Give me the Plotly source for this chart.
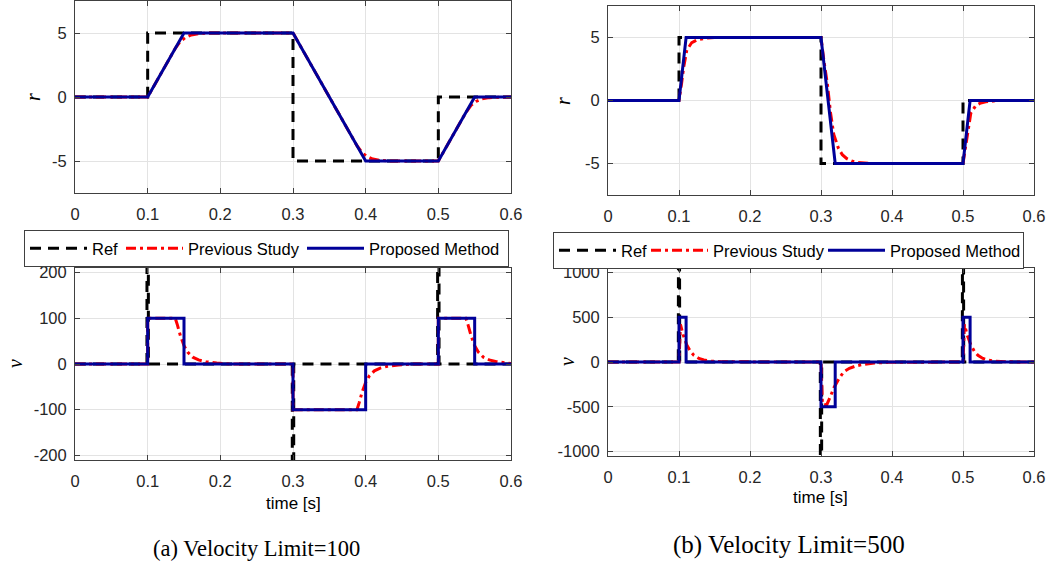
import plotly.graph_objects as go

# ---------------- data ----------------
# Reference signal (same for both cases)
t_ref = [0, 0.1, 0.1, 0.3, 0.3, 0.5, 0.5, 0.6]
r_ref = [0, 0, 5, 5, -5, -5, 0, 0]
t_ref_v = [0, 0.099, 0.1, 0.101, 0.299, 0.3, 0.301, 0.499, 0.5, 0.501, 0.6]
v_ref = [0, 0, 5000, 0, 0, -10000, 0, 0, 5000, 0, 0]

# (a) Velocity limit = 100
t_prop_a = [0, 0.1, 0.15, 0.3, 0.4, 0.5, 0.55, 0.6]
r_prop_a = [0, 0, 5, 5, -5, -5, 0, 0]
t_prev_a = [0, 0.1, 0.138, 0.145, 0.152, 0.16, 0.17, 0.185, 0.3, 0.388, 0.395, 0.402,
            0.41, 0.42, 0.435, 0.5, 0.538, 0.545, 0.552, 0.56, 0.57, 0.585, 0.6]
r_prev_a = [0, 0, 3.8, 4.35, 4.65, 4.85, 4.95, 5.0, 5, -3.8, -4.35, -4.65,
            -4.85, -4.95, -5, -5, -1.2, -0.65, -0.35, -0.15, -0.05, 0, 0]
t_prop_va = [0, 0.1, 0.1, 0.15, 0.15, 0.3, 0.3, 0.4, 0.4, 0.5, 0.5, 0.55, 0.55, 0.6]
v_prop_a = [0, 0, 100, 100, 0, 0, -100, -100, 0, 0, 100, 100, 0, 0]
t_prev_va = [0, 0.1, 0.1, 0.138, 0.141, 0.145, 0.15, 0.155, 0.162, 0.17, 0.18, 0.195, 0.215,
             0.3, 0.3, 0.388, 0.391, 0.395, 0.4, 0.405, 0.412, 0.42, 0.43, 0.445, 0.465,
             0.5, 0.5, 0.538, 0.541, 0.545, 0.55, 0.555, 0.562, 0.57, 0.58, 0.595, 0.6]
v_prev_a = [0, 0, 100, 100, 85, 62, 40, 26, 15, 9, 5, 2, 0,
            0, -100, -100, -85, -62, -40, -26, -15, -9, -5, -2, 0,
            0, 100, 100, 85, 62, 40, 26, 15, 9, 5, 2, 1]

# (b) Velocity limit = 500
t_prop_b = [0, 0.1, 0.11, 0.3, 0.32, 0.5, 0.51, 0.6]
r_prop_b = [0, 0, 5, 5, -5, -5, 0, 0]
t_prev_b = [0, 0.1, 0.1035, 0.1065, 0.111, 0.118, 0.125, 0.132, 0.14, 0.15,
            0.3, 0.304, 0.309, 0.3135, 0.318, 0.3246, 0.33, 0.336, 0.343, 0.35, 0.36, 0.37,
            0.5, 0.5035, 0.5065, 0.511, 0.518, 0.525, 0.532, 0.54, 0.55, 0.6]
r_prev_b = [0, 0, 1.3, 2.6, 4.0, 4.6, 4.8, 4.9, 4.96, 5,
            5, 3.2, 1.3, -1.0, -2.7, -3.8, -4.3, -4.6, -4.8, -4.9, -4.97, -5,
            -5, -3.7, -2.4, -1.0, -0.4, -0.2, -0.1, -0.04, 0, 0]
t_prop_vb = [0, 0.1, 0.1, 0.11, 0.11, 0.3, 0.3, 0.32, 0.32, 0.5, 0.5, 0.51, 0.51, 0.6]
v_prop_b = [0, 0, 500, 500, 0, 0, -500, -500, 0, 0, 500, 500, 0, 0]
t_prev_vb = [0, 0.1, 0.102, 0.106, 0.111, 0.116, 0.121, 0.128, 0.135, 0.145, 0.16,
             0.3, 0.302, 0.308, 0.313, 0.318, 0.325, 0.332, 0.34, 0.35, 0.36, 0.375, 0.395,
             0.5, 0.502, 0.506, 0.511, 0.516, 0.521, 0.528, 0.535, 0.545, 0.56, 0.6]
v_prev_b = [0, 0, 420, 300, 190, 120, 75, 40, 22, 9, 2,
            0, -470, -480, -390, -290, -190, -110, -70, -42, -26, -12, -3,
            0, 420, 300, 190, 120, 75, 40, 22, 9, 2, 0]

series_names = ["Ref", "Previous Study", "Proposed Method"]
x_ticks = [0, 0.1, 0.2, 0.3, 0.4, 0.5, 0.6]
x_tick_text = ["0", "0.1", "0.2", "0.3", "0.4", "0.5", "0.6"]
r_ticks = [-5, 0, 5]
r_tick_text = ["-5", "0", "5"]
va_ticks = [-200, -100, 0, 100, 200]
va_tick_text = ["-200", "-100", "0", "100", "200"]
vb_ticks = [-1000, -500, 0, 500, 1000]
vb_tick_text = ["-1000", "-500", "0", "500", "1000"]
captions = ["(a) Velocity Limit=100", "(b) Velocity Limit=500"]

# ---------------- styling ----------------
W, H = 1050, 567
C_REF, C_PREV, C_PROP = "#000000", "#ff0000", "#000099"
D_REF, D_PREV = "11px,7px", "10px,4px,3px,4px"
LW = 3
AX = "#404040"
GRID = "#e3e3e3"
SANS = "Liberation Sans, Arial, sans-serif"
SERIF = "Liberation Serif, DejaVu Serif, serif"
TICKF = dict(family=SANS, size=16.5, color="#262626")


def px_x(a, b):
    return [a / W, b / W]


def px_y(top, bottom):
    return [(H - bottom) / H, (H - top) / H]


fig = go.Figure()


def add_set(xa, ya, t1, y1, t2, y2, t3, y3, legend_name, show, widths):
    common = dict(xaxis=xa, yaxis=ya, mode="lines", legend=legend_name, hoverinfo="skip")
    fig.add_trace(go.Scatter(x=t1, y=y1, name=series_names[0], showlegend=show,
                             line=dict(color=C_REF, width=LW, dash=D_REF), legendwidth=widths[0], **common))
    fig.add_trace(go.Scatter(x=t2, y=y2, name=series_names[1], showlegend=show,
                             line=dict(color=C_PREV, width=LW, dash=D_PREV), legendwidth=widths[1], **common))
    fig.add_trace(go.Scatter(x=t3, y=y3, name=series_names[2], showlegend=show,
                             line=dict(color=C_PROP, width=LW), legendwidth=widths[2], **common))


WA = [24, 109, 134]
WB = [20, 105, 128]
add_set("x", "y", t_ref, r_ref, t_prev_a, r_prev_a, t_prop_a, r_prop_a, "legend", False, WA)
add_set("x2", "y2", t_ref_v, v_ref, t_prev_va, v_prev_a, t_prop_va, v_prop_a, "legend", True, WA)
add_set("x3", "y3", t_ref, r_ref, t_prev_b, r_prev_b, t_prop_b, r_prop_b, "legend2", False, WB)
add_set("x4", "y4", t_ref_v, v_ref, t_prev_vb, v_prev_b, t_prop_vb, v_prop_b, "legend2", True, WB)


def xax(domain, anchor):
    return dict(domain=domain, anchor=anchor, range=[0, 0.6], tickvals=x_ticks, ticktext=x_tick_text,
                showline=True, linecolor=AX, linewidth=1, mirror="ticks", ticks="inside",
                ticklen=5, tickcolor=AX, showgrid=True, gridcolor=GRID, gridwidth=1,
                zeroline=False, tickfont=TICKF, ticklabelstandoff=6, automargin=False)


def yax(domain, anchor, rng, tv, tt):
    return dict(domain=domain, anchor=anchor, range=rng, tickvals=tv, ticktext=tt,
                showline=True, linecolor=AX, linewidth=1, mirror="ticks", ticks="inside",
                ticklen=5, tickcolor=AX, showgrid=True, gridcolor=GRID, gridwidth=1,
                zeroline=False, tickfont=TICKF, ticklabelstandoff=4, automargin=False)


L = px_x(75, 511)
R = px_x(608, 1034)
fig.update_layout(
    xaxis=xax(L, "y"), yaxis=yax(px_y(1, 193), "x", [-7.5, 7.5], r_ticks, r_tick_text),
    xaxis2=xax(L, "y2"), yaxis2=yax(px_y(268, 460), "x2", [-210, 210], va_ticks, va_tick_text),
    xaxis3=xax(R, "y3"), yaxis3=yax(px_y(6, 195), "x3", [-7.5, 7.5], r_ticks, r_tick_text),
    xaxis4=xax(R, "y4"), yaxis4=yax(px_y(268, 456), "x4", [-1050, 1050], vb_ticks, vb_tick_text),
)

leg = dict(orientation="h", xanchor="left", yanchor="top", bgcolor="#ffffff",
           bordercolor=AX, borderwidth=1, font=dict(family=SANS, size=16.5, color="#000000"),
           itemwidth=57, tracegroupgap=0)
fig.update_layout(
    legend=dict(leg, x=24 / W, y=(H - 230) / H),
    legend2=dict(leg, x=553 / W, y=(H - 232) / H),
)

ann = []
def label(text, x, y, size, font, angle=0):
    ann.append(dict(text=text, x=x / W, y=(H - y) / H, xref="paper", yref="paper",
                    showarrow=False, textangle=angle, xanchor="center", yanchor="middle",
                    font=dict(family=font, size=size, color="#000000")))

label("<i>r</i>", 33, 97, 20, SERIF, -90)
label("<i>v</i>", 15, 364, 20, SERIF, -90)
label("<i>r</i>", 563, 101, 20, SERIF, -90)
label("<i>v</i>", 567, 362, 20, SERIF, -90)
label("time [s]", 293, 503, 17, SANS)
label("time [s]", 820, 497, 17, SANS)
label(captions[0], 256, 548, 22.5, SERIF)
label(captions[1], 789, 545, 25, SERIF)
fig.update_layout(annotations=ann)

fig.update_layout(width=W, height=H, margin=dict(l=0, r=0, t=0, b=0, pad=0, autoexpand=False),
                  paper_bgcolor="#ffffff", plot_bgcolor="#ffffff", showlegend=True)

fig.write_html("out.html", config={"displayModeBar": False},
               post_script="document.body.style.margin='0';document.body.style.overflow='hidden';")
